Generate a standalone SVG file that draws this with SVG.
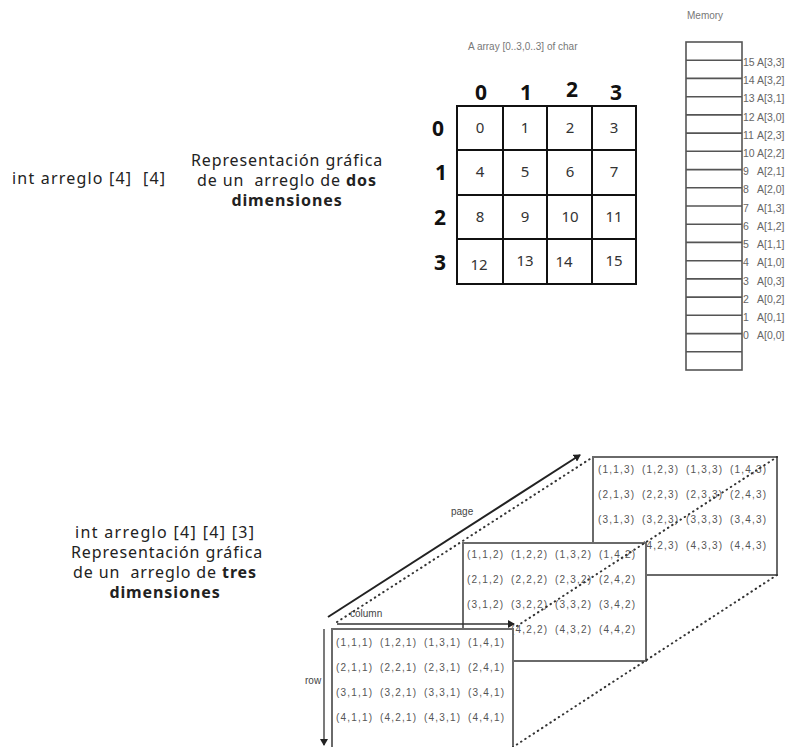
<svg xmlns="http://www.w3.org/2000/svg" width="788" height="747" viewBox="0 0 788 747">
<style>
.t{font-family:"Noto Sans","DejaVu Sans",sans-serif;font-size:16px;letter-spacing:0.9px;fill:#222;white-space:pre}
.b{font-weight:bold}
.hd{font-family:"Noto Sans","DejaVu Sans",sans-serif;font-size:21px;font-weight:bold;fill:#111;text-anchor:middle}
.cell{font-family:"Noto Sans","DejaVu Sans",sans-serif;font-size:15px;fill:#333;text-anchor:middle}
.gl{stroke:#111;stroke-width:2;fill:none}
.sm{font-family:"Liberation Sans",Arial,sans-serif;font-size:10px;fill:#777}
.mt{font-family:"Liberation Sans",Arial,sans-serif;font-size:10.5px;fill:#666}
.mem{stroke:#555;stroke-width:1.6;fill:#fff}
.ml{stroke:#555;stroke-width:1.6}
.pg{fill:#fff;stroke:#6a6a6a;stroke-width:2}
.tp{font-family:"Liberation Sans",Arial,sans-serif;font-size:10px;letter-spacing:1.2px;fill:#555}
.lb{font-family:"Liberation Sans",Arial,sans-serif;font-size:10px;fill:#444}
.dot{stroke:#333;stroke-width:2;stroke-dasharray:0.5 4.5;stroke-linecap:round;fill:none}
.ar{stroke:#222;stroke-width:2;fill:none}
</style>
<defs>
<marker id="ah" markerWidth="8" markerHeight="8" refX="6" refY="4" orient="auto" markerUnits="userSpaceOnUse">
<path d="M0,0 L7,4 L0,8 z" fill="#222"/>
</marker>
</defs>

<g id="label-2d">
<text class="t" x="12" y="184" textLength="154">int arreglo [4]  [4]</text>
</g>
<g id="desc-2d" text-anchor="middle">
<text class="t" x="287" y="166">Representación gráfica</text>
<text class="t" x="287" y="186">de un  arreglo de <tspan class="b">dos</tspan></text>
<text class="t b" x="287" y="206">dimensiones</text>
</g>

<g id="grid">
<text class="sm" x="468" y="50">A array [0..3,0..3] of char</text>
<rect class="gl" x="457" y="106" width="179" height="178"/>
<line class="gl" x1="503" y1="106" x2="503" y2="284"/>
<line class="gl" x1="547" y1="106" x2="547" y2="284"/>
<line class="gl" x1="592" y1="106" x2="592" y2="284"/>
<line class="gl" x1="457" y1="150" x2="636" y2="150"/>
<line class="gl" x1="457" y1="195" x2="636" y2="195"/>
<line class="gl" x1="457" y1="239" x2="636" y2="239"/>
<text class="hd" x="481" y="100">0</text>
<text class="hd" x="526" y="100">1</text>
<text class="hd" x="572" y="97">2</text>
<text class="hd" x="616" y="100">3</text>
<text class="hd" x="438" y="136">0</text>
<text class="hd" x="441" y="180">1</text>
<text class="hd" x="440" y="225">2</text>
<text class="hd" x="440" y="270">3</text>
<text class="cell" x="480" y="133">0</text>
<text class="cell" x="525" y="133">1</text>
<text class="cell" x="570" y="133">2</text>
<text class="cell" x="614" y="133">3</text>
<text class="cell" x="480" y="177">4</text>
<text class="cell" x="525" y="177">5</text>
<text class="cell" x="570" y="177">6</text>
<text class="cell" x="614" y="177">7</text>
<text class="cell" x="480" y="222">8</text>
<text class="cell" x="525" y="222">9</text>
<text class="cell" x="570" y="222">10</text>
<text class="cell" x="614" y="222">11</text>
<text class="cell" x="479" y="270">12</text>
<text class="cell" x="525" y="266">13</text>
<text class="cell" x="564" y="267">14</text>
<text class="cell" x="614" y="266">15</text>
</g>

<g id="memory">
<text class="sm" x="687" y="19">Memory</text>
<rect class="mem" x="686" y="42" width="56" height="328"/>
<line class="ml" x1="686" y1="60.2" x2="742" y2="60.2"/>
<line class="ml" x1="686" y1="78.4" x2="742" y2="78.4"/>
<line class="ml" x1="686" y1="96.7" x2="742" y2="96.7"/>
<line class="ml" x1="686" y1="114.9" x2="742" y2="114.9"/>
<line class="ml" x1="686" y1="133.1" x2="742" y2="133.1"/>
<line class="ml" x1="686" y1="151.3" x2="742" y2="151.3"/>
<line class="ml" x1="686" y1="169.6" x2="742" y2="169.6"/>
<line class="ml" x1="686" y1="187.8" x2="742" y2="187.8"/>
<line class="ml" x1="686" y1="206" x2="742" y2="206"/>
<line class="ml" x1="686" y1="224.2" x2="742" y2="224.2"/>
<line class="ml" x1="686" y1="242.4" x2="742" y2="242.4"/>
<line class="ml" x1="686" y1="260.7" x2="742" y2="260.7"/>
<line class="ml" x1="686" y1="278.9" x2="742" y2="278.9"/>
<line class="ml" x1="686" y1="297.1" x2="742" y2="297.1"/>
<line class="ml" x1="686" y1="315.3" x2="742" y2="315.3"/>
<line class="ml" x1="686" y1="333.6" x2="742" y2="333.6"/>
<line class="ml" x1="686" y1="351.8" x2="742" y2="351.8"/>
<g class="mt">
<text x="743" y="66">15</text><text x="757" y="66">A[3,3]</text>
<text x="743" y="84">14</text><text x="757" y="84">A[3,2]</text>
<text x="743" y="102">13</text><text x="757" y="102">A[3,1]</text>
<text x="743" y="121">12</text><text x="757" y="121">A[3,0]</text>
<text x="743" y="139">11</text><text x="757" y="139">A[2,3]</text>
<text x="743" y="157">10</text><text x="757" y="157">A[2,2]</text>
<text x="743" y="175">9</text><text x="757" y="175">A[2,1]</text>
<text x="743" y="193">8</text><text x="757" y="193">A[2,0]</text>
<text x="743" y="212">7</text><text x="757" y="212">A[1,3]</text>
<text x="743" y="230">6</text><text x="757" y="230">A[1,2]</text>
<text x="743" y="248">5</text><text x="757" y="248">A[1,1]</text>
<text x="743" y="266">4</text><text x="757" y="266">A[1,0]</text>
<text x="743" y="285">3</text><text x="757" y="285">A[0,3]</text>
<text x="743" y="303">2</text><text x="757" y="303">A[0,2]</text>
<text x="743" y="321">1</text><text x="757" y="321">A[0,1]</text>
<text x="743" y="339">0</text><text x="757" y="339">A[0,0]</text>
</g>
</g>

<g id="desc-3d" text-anchor="middle">
<text class="t" x="165" y="538" textLength="180">int arreglo [4] [4] [3]</text>
<text class="t" x="167" y="558">Representación gráfica</text>
<text class="t" x="165" y="578">de un  arreglo de <tspan class="b">tres</tspan></text>
<text class="t b" x="165" y="598">dimensiones</text>
</g>

<g id="page3">
<rect class="pg" x="593" y="457" width="184" height="118"/>
<g class="tp">
<text x="598" y="473">(1,1,3)</text><text x="642" y="473">(1,2,3)</text><text x="686" y="473">(1,3,3)</text><text x="730" y="473">(1,4,3)</text>
<text x="598" y="498">(2,1,3)</text><text x="642" y="498">(2,2,3)</text><text x="686" y="498">(2,3,3)</text><text x="730" y="498">(2,4,3)</text>
<text x="598" y="523">(3,1,3)</text><text x="642" y="523">(3,2,3)</text><text x="686" y="523">(3,3,3)</text><text x="730" y="523">(3,4,3)</text>
<text x="642" y="549">(4,2,3)</text><text x="686" y="549">(4,3,3)</text><text x="730" y="549">(4,4,3)</text>
</g>
</g>

<g id="page2">
<rect class="pg" x="463" y="543" width="183" height="118"/>
<g class="tp">
<text x="467" y="558">(1,1,2)</text><text x="511" y="558">(1,2,2)</text><text x="555" y="558">(1,3,2)</text><text x="599" y="558">(1,4,2)</text>
<text x="467" y="583">(2,1,2)</text><text x="511" y="583">(2,2,2)</text><text x="555" y="583">(2,3,2)</text><text x="599" y="583">(2,4,2)</text>
<text x="467" y="608">(3,1,2)</text><text x="511" y="608">(3,2,2)</text><text x="555" y="608">(3,3,2)</text><text x="599" y="608">(3,4,2)</text>
<text x="511" y="633">(4,2,2)</text><text x="555" y="633">(4,3,2)</text><text x="599" y="633">(4,4,2)</text>
</g>
</g>

<g id="page1">
<rect class="pg" x="332" y="629" width="181" height="122"/>
<g class="tp">
<text x="336" y="646">(1,1,1)</text><text x="380" y="646">(1,2,1)</text><text x="424" y="646">(1,3,1)</text><text x="468" y="646">(1,4,1)</text>
<text x="336" y="671">(2,1,1)</text><text x="380" y="671">(2,2,1)</text><text x="424" y="671">(2,3,1)</text><text x="468" y="671">(2,4,1)</text>
<text x="336" y="696">(3,1,1)</text><text x="380" y="696">(3,2,1)</text><text x="424" y="696">(3,3,1)</text><text x="468" y="696">(3,4,1)</text>
<text x="336" y="721">(4,1,1)</text><text x="380" y="721">(4,2,1)</text><text x="424" y="721">(4,3,1)</text><text x="468" y="721">(4,4,1)</text>
</g>
</g>

<g id="connectors">
<line class="dot" x1="337" y1="622" x2="593" y2="457"/>
<line class="dot" x1="517" y1="626" x2="777" y2="457"/>
<line class="dot" x1="777" y1="575" x2="513" y2="747"/>
<line class="ar" x1="328" y1="617" x2="580" y2="455" marker-end="url(#ah)"/>
<line stroke="#333" stroke-width="1.3" x1="337" y1="624" x2="514" y2="624" marker-end="url(#ah)"/>
<line stroke="#333" stroke-width="1.3" x1="324" y1="629" x2="324" y2="745" marker-end="url(#ah)"/>
<text class="lb" x="451" y="515">page</text>
<text class="lb" x="350" y="617">column</text>
<text class="lb" x="305" y="684">row</text>
</g>
</svg>
